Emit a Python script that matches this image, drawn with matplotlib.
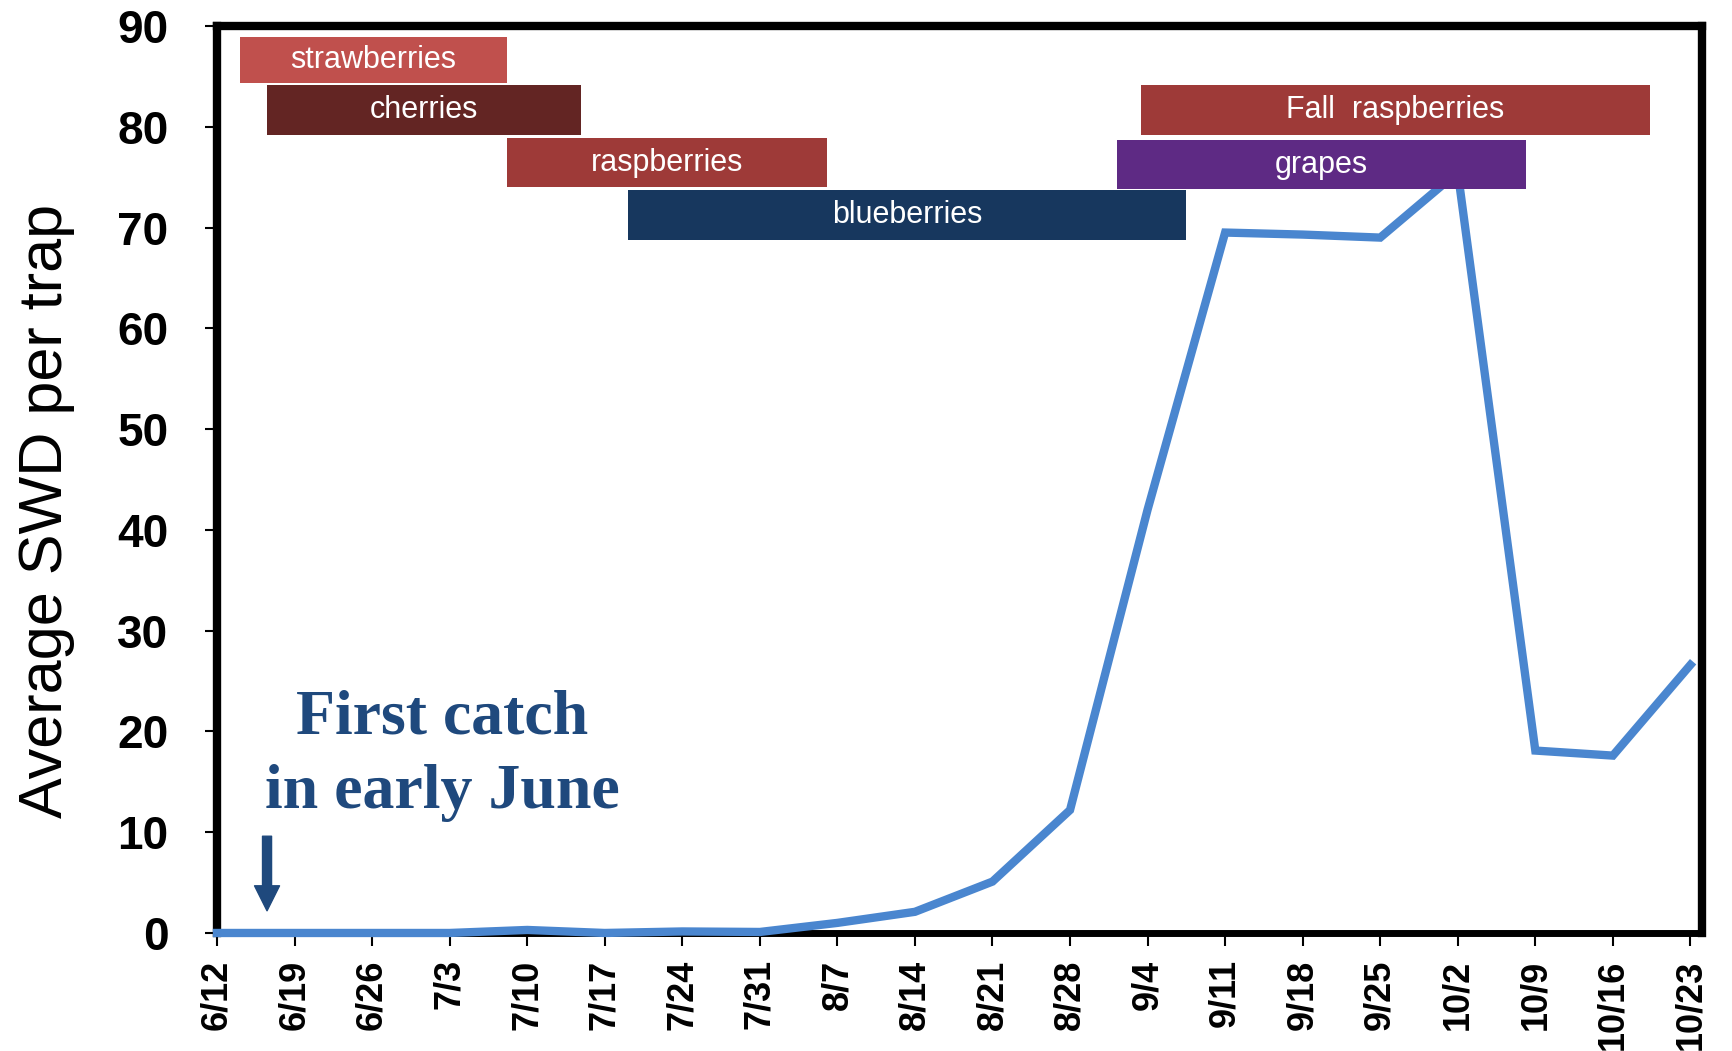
import matplotlib.pyplot as plt

# weekly trap dates and average SWD catch
dates = ['6/12', '6/19', '6/26', '7/3', '7/10', '7/17', '7/24', '7/31', '8/7', '8/14',
         '8/21', '8/28', '9/4', '9/11', '9/18', '9/25', '10/2', '10/9', '10/16', '10/23']
swd = [0, 0, 0, 0, 0.3, 0, 0.15, 0.1, 1.0, 2.1,
       5.1, 12.2, 42.0, 69.5, 69.3, 69.0, 75.5, 18.1, 17.6, 26.6]

# crop harvest windows (in week index units)
crops = ['strawberries', 'cherries', 'raspberries', 'blueberries', 'Fall  raspberries', 'grapes']
crop_start = [0.29, 0.65, 3.74, 5.30, 11.91, 11.61]
crop_end = [3.74, 4.69, 7.87, 12.50, 18.48, 16.88]
crop_low = [84.3, 79.2, 74.0, 68.75, 79.2, 73.8]
crop_high = [88.9, 84.1, 78.9, 73.7, 84.1, 78.7]
crop_colors = ['#C0504D', '#632523', '#9E3A38', '#17375E', '#9E3A38', '#5E2A84']

plt.rcParams['font.family'] = ['Liberation Sans', 'DejaVu Sans']

fig = plt.figure(figsize=(17.32, 10.51), dpi=100)
ax = fig.add_axes([0.1253, 0.1123, 0.8574, 0.863])

x = list(range(len(dates)))
ax.plot(x, swd, color='#4A86CF', lw=6, zorder=3, clip_on=False, solid_joinstyle='miter')

# harvest window boxes
for name, s, e, lo, hi, c in zip(crops, crop_start, crop_end, crop_low, crop_high, crop_colors):
    ax.barh((lo + hi) / 2, e - s, left=s, height=hi - lo, color=c, zorder=4)
    ax.text((s + e) / 2, (lo + hi) / 2, name, color='white', fontsize=22,
            ha='center', va='center', zorder=5)

# first catch note
note_color = '#1F497D'
ax.text(2.9, 19.84, 'First catch', color=note_color, fontsize=46, fontweight='bold',
        family='Liberation Serif', ha='center', va='baseline')
ax.text(2.9, 12.4, 'in early June', color=note_color, fontsize=46, fontweight='bold',
        family='Liberation Serif', ha='center', va='baseline')
ax.annotate('', xy=(0.645, 2.2), xytext=(0.645, 9.6),
            arrowprops=dict(width=6.5, headwidth=18, headlength=18, color=note_color, shrink=0))

ax.set_xlim(0, 19.15)
ax.set_ylim(0, 90)
ax.set_xticks(x)
ax.set_xticklabels(dates, rotation=90, fontsize=26, fontweight='bold')
ax.set_yticks(range(0, 91, 10))
for lab in ax.get_yticklabels():
    lab.set_fontweight('bold')
ax.tick_params(axis='x', direction='out', length=9, width=1.5, pad=10)
ax.tick_params(axis='y', direction='out', length=9, width=1.5, pad=26, labelsize=33)

for side in ['left', 'right', 'top']:
    ax.spines[side].set_linewidth(6)
ax.spines['bottom'].set_linewidth(5)

fig.text(0.027, 0.514, 'Average SWD per trap', rotation=90, fontsize=44,
         ha='center', va='center')

fig.savefig('out.png', dpi=100)
